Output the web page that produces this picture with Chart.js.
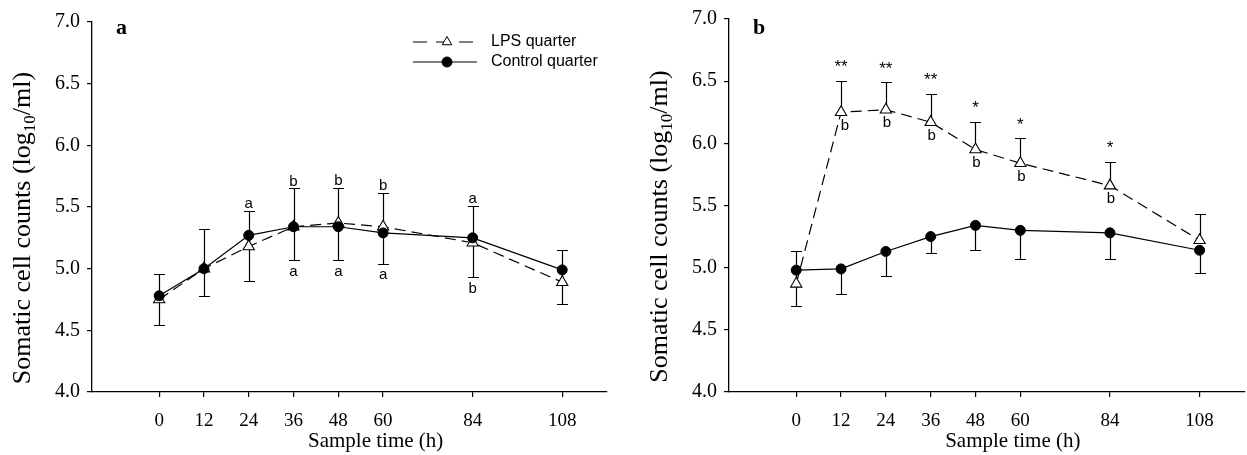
<!DOCTYPE html>
<html>
<head>
<meta charset="utf-8">
<script src="https://cdn.jsdelivr.net/npm/chart.js@4.4.0/dist/chart.umd.min.js"></script>
<style>
  html, body { margin: 0; padding: 0; background: #fff; overflow: hidden; width: 1247px; height: 455px; position: relative; }
  .panel { position: absolute; top: 0; height: 455px; }
</style>
</head>
<body>
<div class="panel" style="left:0;width:620px"><canvas id="chartA" width="620" height="455"></canvas></div>
<div class="panel" style="left:620px;width:632px"><canvas id="chartB" width="632" height="455"></canvas></div>
<script>
// sample times (h)
const times = [0, 12, 24, 36, 48, 60, 84, 108];

// panel a
const lpsA = [4.75, 5.00, 5.18, 5.34, 5.37, 5.34, 5.21, 4.89];
const ctrlA = [4.78, 5.00, 5.27, 5.34, 5.34, 5.29, 5.25, 4.99];
const lpsUpperA = [4.96, 5.32, 5.47, 5.65, 5.655, 5.61, 5.51, 5.15];
const ctrlLowerA = [4.54, 4.78, 4.90, 5.07, 5.07, 5.04, 4.93, 4.71];
const sigAboveA = ['', '', 'a', 'b', 'b', 'b', 'a', ''];
const sigBelowA = ['', '', '', 'a', 'a', 'a', 'b', ''];

// panel b
const lpsB = [4.87, 6.25, 6.27, 6.17, 5.95, 5.84, 5.66, 5.22];
const ctrlB = [4.98, 4.99, 5.13, 5.25, 5.34, 5.30, 5.28, 5.14];
const lpsUpperB = [5.135, 6.50, 6.49, 6.40, 6.17, 6.04, 5.85, 5.435];
const ctrlLowerB = [4.69, 4.79, 4.93, 5.115, 5.14, 5.07, 5.07, 4.955];
const starsB = ['', '**', '**', '**', '*', '*', '*', ''];
const lettersB = ['', 'b', 'b', 'b', 'b', 'b', 'b', ''];

const SERIF = '"Liberation Serif", "Times New Roman", serif';
const SANS = '"Liberation Sans", Arial, sans-serif';

const errorBars = {
  id: 'errorBars',
  beforeDatasetsDraw(chart, args, o) {
    const { ctx, scales: { x, y } } = chart;
    ctx.save();
    ctx.strokeStyle = '#000';
    ctx.lineWidth = 1.2;
    times.forEach((t, i) => {
      const px = Math.round(x.getPixelForValue(t)) + 0.5;
      [[o.lps[i], o.upper[i]], [o.ctrl[i], o.lower[i]]].forEach(([from, to]) => {
        if (to == null) return;
        const y0 = y.getPixelForValue(from);
        const y1 = Math.round(y.getPixelForValue(to)) + 0.5;
        ctx.beginPath();
        ctx.moveTo(px, y0);
        ctx.lineTo(px, y1);
        ctx.moveTo(px - 5.5, y1);
        ctx.lineTo(px + 5.5, y1);
        ctx.stroke();
      });
    });
    ctx.restore();
  }
};

const decorations = {
  id: 'decorations',
  afterDraw(chart, args, o) {
    const { ctx, chartArea, scales: { x, y } } = chart;
    ctx.save();
    ctx.fillStyle = '#000';

    // significance marks
    ctx.textAlign = 'center';
    times.forEach((t, i) => {
      const px = x.getPixelForValue(t);
      ctx.font = '15px ' + SANS;
      if (o.above && o.above[i]) {
        ctx.textBaseline = 'alphabetic';
        ctx.fillText(o.above[i], px, y.getPixelForValue(o.upper[i]) - 3);
      }
      if (o.below && o.below[i]) {
        ctx.textBaseline = 'top';
        ctx.fillText(o.below[i], px, y.getPixelForValue(o.lower[i]) + 4);
      }
      if (o.letters && o.letters[i]) {
        ctx.textBaseline = 'top';
        ctx.fillText(o.letters[i], px + (i === 1 ? 4 : 1), y.getPixelForValue(o.lps[i]) + 6);
      }
      if (o.stars && o.stars[i]) {
        ctx.font = '17px ' + SANS;
        ctx.textBaseline = 'bottom';
        ctx.fillText(o.stars[i], px, y.getPixelForValue(o.upper[i]) - 5);
      }
    });

    // panel letter
    ctx.font = 'bold 22px ' + SERIF;
    ctx.textAlign = 'left';
    ctx.textBaseline = 'alphabetic';
    ctx.fillText(o.panel, chartArea.left + 24, 34);

    // x axis title
    ctx.font = '21px ' + SERIF;
    ctx.textAlign = 'center';
    ctx.textBaseline = 'middle';
    ctx.fillText('Sample time (h)', x.getPixelForValue(58), 441);

    // y axis title with subscript
    ctx.translate(chartArea.left - 62, (chartArea.top + chartArea.bottom) / 2 + 21);
    ctx.rotate(-Math.PI / 2);
    const p1 = 'Somatic cell counts (log', p2 = '10', p3 = '/ml)';
    ctx.font = '26px ' + SERIF;
    const w1 = ctx.measureText(p1).width, w3 = ctx.measureText(p3).width;
    ctx.font = '17px ' + SERIF;
    const w2 = ctx.measureText(p2).width;
    const sx = -(w1 + w2 + w3) / 2;
    ctx.textAlign = 'left';
    ctx.textBaseline = 'alphabetic';
    ctx.font = '26px ' + SERIF;
    ctx.fillText(p1, sx, 0);
    ctx.font = '17px ' + SERIF;
    ctx.fillText(p2, sx + w1, 5);
    ctx.font = '26px ' + SERIF;
    ctx.fillText(p3, sx + w1 + w2, 0);
    ctx.restore();

    // legend
    if (o.legend) {
      ctx.save();
      ctx.strokeStyle = '#000';
      ctx.lineWidth = 1.2;
      ctx.setLineDash([14, 9]);
      ctx.beginPath(); ctx.moveTo(413, 42); ctx.lineTo(473, 42); ctx.stroke();
      ctx.setLineDash([]);
      ctx.beginPath(); ctx.moveTo(413, 62); ctx.lineTo(477, 62); ctx.stroke();
      ctx.lineWidth = 1;
      ctx.fillStyle = '#fff';
      Chart.helpers.drawPoint(ctx, { pointStyle: 'triangle', radius: 5.5, borderWidth: 1 }, 447, 42);
      ctx.fillStyle = '#000';
      Chart.helpers.drawPoint(ctx, { pointStyle: 'circle', radius: 5, borderWidth: 1 }, 447, 62);
      ctx.font = '16px ' + SANS;
      ctx.textAlign = 'left';
      ctx.textBaseline = 'middle';
      ctx.fillText('LPS quarter', 491, 42);
      ctx.fillText('Control quarter', 491, 62);
      ctx.restore();
    }
  }
};

function axisCommon() {
  return {
    grid: { display: true, drawOnChartArea: false, drawTicks: true, tickLength: 5, color: '#000', lineWidth: 1.2 },
    border: { display: true, color: '#000', width: 1.3 },
  };
}

function makePanel(id, d) {
  return new Chart(document.getElementById(id), {
    type: 'line',
    data: {
      datasets: [
        {
          label: 'LPS quarter',
          data: times.map((t, i) => ({ x: t, y: d.lps[i] })),
          borderColor: '#000', borderWidth: 1.2, borderDash: [11, 6],
          pointStyle: 'triangle', pointRadius: 6.5,
          pointBackgroundColor: '#fff', pointBorderColor: '#000', pointBorderWidth: 1.1,
          tension: 0, order: 1
        },
        {
          label: 'Control quarter',
          data: times.map((t, i) => ({ x: t, y: d.ctrl[i] })),
          borderColor: '#000', borderWidth: 1.2,
          pointStyle: 'circle', pointRadius: 5,
          pointBackgroundColor: '#000', pointBorderColor: '#000', pointBorderWidth: 1,
          tension: 0, order: 0
        }
      ]
    },
    options: {
      responsive: false,
      animation: false,
      events: [],
      layout: { padding: { left: 0, right: d.padRight, top: d.padTop, bottom: 0 } },
      plugins: {
        legend: { display: false },
        tooltip: { enabled: false },
        errorBars: { lps: d.lps, ctrl: d.ctrl, upper: d.upper, lower: d.lower },
        decorations: d
      },
      scales: {
        x: Object.assign(axisCommon(), {
          type: 'linear', min: -18, max: 120,
          afterBuildTicks: s => { s.ticks = times.map(v => ({ value: v })); },
          afterFit: s => { s.height = 63; },
          ticks: { font: { family: SERIF, size: 19 }, color: '#000', padding: 13, maxRotation: 0, autoSkip: false }
        }),
        y: Object.assign(axisCommon(), {
          min: 4, max: 7,
          afterFit: s => { s.width = d.axisWidth; },
          ticks: { stepSize: 0.5, font: { family: SERIF, size: 20 }, color: '#000', padding: 7, callback: v => v.toFixed(1) }
        })
      }
    },
    plugins: [errorBars, decorations]
  });
}

makePanel('chartA', {
  panel: 'a', lps: lpsA, ctrl: ctrlA, upper: lpsUpperA, lower: ctrlLowerA,
  above: sigAboveA, below: sigBelowA, legend: true,
  axisWidth: 92, padTop: 22, padRight: 13
});
makePanel('chartB', {
  panel: 'b', lps: lpsB, ctrl: ctrlB, upper: lpsUpperB, lower: ctrlLowerB,
  stars: starsB, letters: lettersB, legend: false,
  axisWidth: 109, padTop: 17, padRight: 1
});
</script>
</body>
</html>
